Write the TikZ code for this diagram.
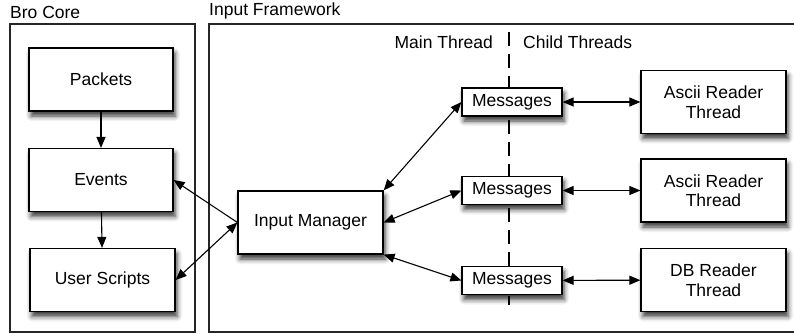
\documentclass[tikz,border=0pt]{standalone}
\usepackage{fontspec}
\setmainfont{Liberation Sans}
\usetikzlibrary{arrows.meta,shadows.blur}

\tikzset{
box/.style={draw=black, line width=1.2pt, fill=white, align=center,
  blur shadow={shadow xshift=2pt, shadow yshift=-5pt, shadow blur radius=5pt, shadow opacity=80},
  minimum width=145pt, minimum height=63pt, inner sep=0pt},
msgbox/.style={box, minimum width=100pt, minimum height=28pt},
frame/.style={draw=black!85, line width=1.1pt, inner sep=0pt},
link/.style={line width=1.1pt, -{Triangle[length=11pt,width=9pt]}},
dlink/.style={line width=1.1pt, {Triangle[length=11pt,width=9pt]}-{Triangle[length=11pt,width=9pt]}}
}

\begin{document}
\begin{tikzpicture}[x=1pt, y=-1pt, font=\fontsize{17.5}{19.5}\selectfont]
%\draw[help lines] (0,0) grid[step=50] (794,333);
\useasboundingbox (0,0) rectangle (794,333);

% frames
\node[frame, minimum width=185pt, minimum height=308pt] (core) at (102.5,178) {};
\node[frame, minimum width=590pt, minimum height=308pt] (framework) at (504,178) {};
\node[anchor=base west, inner sep=0pt] (core-label) at (10,18) {Bro Core};
\node[anchor=base west, inner sep=0pt] (framework-label) at (209,15) {Input Framework};

% thread border
\coordinate (sep-top) at (509,32);
\coordinate (sep-bot) at (509,305);
\draw[line width=2.5pt, dash pattern=on 14pt off 8pt] (sep-top) -- (sep-bot);
\node[anchor=base east, inner sep=0pt] (main) at (493,48) {Main Thread};
\node[anchor=base west, inner sep=0pt] (child) at (523,48) {Child Threads};

% bro core
\node[box, minimum width=144pt] (packets) at (101,79.5) {Packets};
\node[box, minimum width=144pt] (events) at (101,180) {Events};
\node[box] (scripts) at (102.5,280) {User Scripts};

% input framework
\node[box] (manager) at (310.5,222.5) {Input Manager};
\node[msgbox] (msg1) at (512,102) {Messages};
\node[msgbox] (msg2) at (512,190.5) {Messages};
\node[msgbox] (msg3) at (512,280.5) {Messages};
\node[box] (ascii1) at (713.5,102) {Ascii Reader\\Thread};
\node[box] (ascii2) at (713.5,190.5) {Ascii Reader\\Thread};
\node[box] (db) at (713.5,280) {DB Reader\\Thread};

\draw[link] (packets) -- (events);
\draw[link] (events) -- (scripts);
\draw[link] (manager.west) -- (events.east);
\draw[dlink] (scripts.east) -- (manager.west);
\draw[dlink] (manager.north east) -- (msg1.west);
\draw[dlink] (manager.east) -- (msg2.west);
\draw[dlink] (manager.south east) -- (msg3.west);
\draw[dlink] (msg1) -- (ascii1);
\draw[dlink] (msg2) -- (ascii2);
\draw[dlink] (msg3) -- (db);
\end{tikzpicture}
\end{document}
